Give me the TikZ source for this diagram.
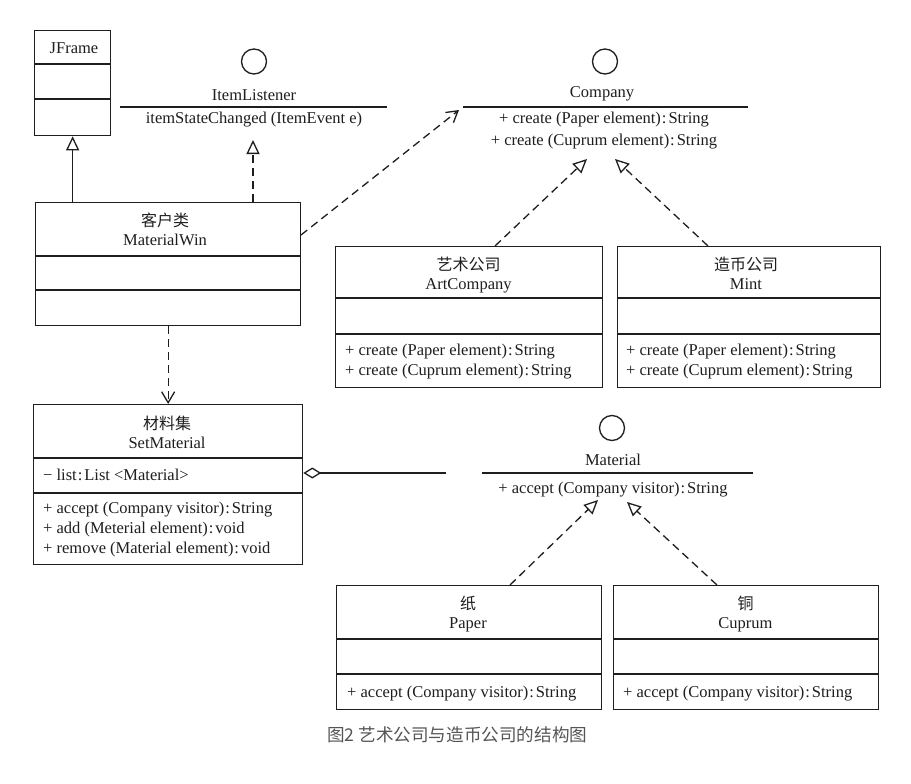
\documentclass[tikz,border=0pt]{standalone}
\usepackage{fontspec}
\setmainfont{Liberation Serif}
\newfontfamily\cjk{Noto Sans CJK SC}
\usetikzlibrary{arrows.meta}
\definecolor{ink}{RGB}{30,30,30}
\definecolor{capgray}{RGB}{85,85,85}
\newcommand{\cl}{\kern1pt:\kern2pt}
\tikzset{
  box/.style={draw=ink, line width=1.3pt, rectangle, anchor=north west, inner sep=0pt},
  div/.style={draw=ink, line width=1.3pt},
  txt/.style={inner sep=0pt, text=ink, font=\fontsize{16.5}{18}\selectfont},
  ctxt/.style={inner sep=0pt, text=ink, font=\cjk\fontsize{16}{18}\selectfont},
  iface/.style={draw=ink, line width=1.3pt, circle, minimum size=25pt, inner sep=0pt},
  gen/.style={draw=ink, line width=1.3pt, -{Triangle[open, length=14pt, width=13pt, line width=1.3pt]}},
  real/.style={gen, dash pattern=on 8pt off 5pt},
  dep/.style={draw=ink, line width=1.3pt, dash pattern=on 8pt off 5pt, -{Straight Barb[length=11pt, width=13pt, line width=1.3pt]}},
  agg/.style={draw=ink, line width=1.3pt, -{Diamond[open, length=18pt, width=11pt, line width=1.3pt]}}
}
\begin{document}
\begin{tikzpicture}[x=1pt,y=-1pt]
\fill[white] (0,0) rectangle (911,784);
\useasboundingbox (0,0) rectangle (911,784);

% JFrame
\node[box, minimum width=76pt, minimum height=105pt] (jframe) at (34,30) {};
\draw[div] (jframe.west |- 0,64) -- (jframe.east |- 0,64);
\draw[div] (jframe.west |- 0,99) -- (jframe.east |- 0,99);
\node[txt, anchor=base] (jft) at (74,54) {JFrame};

% ItemListener
\node[iface] (il) at (254,61.5) {};
\node[txt, anchor=base] (ilt) at (254,100) {ItemListener};
\draw[div] (120,107) -- (387,107);
\node[txt, anchor=base] (ilm) at (254,124) {itemStateChanged (ItemEvent e)};
\coordinate (iltip) at (253,140);

% Company
\node[iface] (co) at (605,61.5) {};
\node[txt, anchor=base] (cot) at (602,97) {Company};
\draw[div] (463,107) -- (748,107);
\node[txt, anchor=base] (com1) at (604,124) {+ create (Paper element)\cl String};
\node[txt, anchor=base] (com2) at (604,145) {+ create (Cuprum element)\cl String};
\coordinate (comptip) at (459,110);
\coordinate (ctipl) at (587,159);
\coordinate (ctipr) at (615,159);

% MaterialWin
\node[box, minimum width=265pt, minimum height=123pt] (mw) at (35,202) {};
\draw[div] (mw.west |- 0,256) -- (mw.east |- 0,256);
\draw[div] (mw.west |- 0,290) -- (mw.east |- 0,290);
\node[ctxt] (mwc) at (165,220) {客户类};
\node[txt, anchor=base] (mwt) at (165,245) {MaterialWin};
\coordinate (mwport) at (301,235);

% ArtCompany
\node[box, minimum width=267pt, minimum height=141pt] (ac) at (335,246) {};
\draw[div] (ac.west |- 0,298) -- (ac.east |- 0,298);
\draw[div] (ac.west |- 0,334) -- (ac.east |- 0,334);
\node[ctxt] (acc) at (468.5,264) {艺术公司};
\node[txt, anchor=base] (act) at (468.5,289) {ArtCompany};
\node[txt, anchor=base west] (acm1) at (345,355) {+ create (Paper element)\cl String};
\node[txt, anchor=base west] (acm2) at (345,375) {+ create (Cuprum element)\cl String};
\coordinate (acport) at (495,246);

% Mint
\node[box, minimum width=263pt, minimum height=141pt] (mint) at (617,246) {};
\draw[div] (mint.west |- 0,298) -- (mint.east |- 0,298);
\draw[div] (mint.west |- 0,334) -- (mint.east |- 0,334);
\node[ctxt] (mic) at (746,264) {造币公司};
\node[txt, anchor=base] (mit) at (746,289) {Mint};
\node[txt, anchor=base west] (mim1) at (626,355) {+ create (Paper element)\cl String};
\node[txt, anchor=base west] (mim2) at (626,375) {+ create (Cuprum element)\cl String};
\coordinate (mintport) at (708,246);

% SetMaterial
\node[box, minimum width=269pt, minimum height=160pt] (sm) at (33,404) {};
\draw[div] (sm.west |- 0,458) -- (sm.east |- 0,458);
\draw[div] (sm.west |- 0,493) -- (sm.east |- 0,493);
\node[ctxt] (smc) at (167,423) {材料集};
\node[txt, anchor=base] (smt) at (167,448) {SetMaterial};
\node[txt, anchor=base west] (sma) at (43,480) {− list\cl List <Material>};
\node[txt, anchor=base west] (smm1) at (43,513) {+ accept (Company visitor)\cl String};
\node[txt, anchor=base west] (smm2) at (43,533) {+ add (Meterial element)\cl void};
\node[txt, anchor=base west] (smm3) at (43,553) {+ remove (Material element)\cl void};

% Material
\node[iface] (ma) at (612,428) {};
\node[txt, anchor=base] (mat) at (613,465) {Material};
\draw[div] (482,473) -- (753,473);
\node[txt, anchor=base] (mam) at (613,493) {+ accept (Company visitor)\cl String};
\coordinate (aggend) at (446,473);
\coordinate (mtipl) at (598,500);
\coordinate (mtipr) at (627,502);

% Paper
\node[box, minimum width=265pt, minimum height=124pt] (pa) at (336,585) {};
\draw[div] (pa.west |- 0,639) -- (pa.east |- 0,639);
\draw[div] (pa.west |- 0,674) -- (pa.east |- 0,674);
\node[ctxt] (pac) at (468,603) {纸};
\node[txt, anchor=base] (pat) at (468,628) {Paper};
\node[txt, anchor=base west] (pam) at (347,697) {+ accept (Company visitor)\cl String};
\coordinate (paport) at (510,585);

% Cuprum
\node[box, minimum width=265pt, minimum height=124pt] (cu) at (613,585) {};
\draw[div] (cu.west |- 0,639) -- (cu.east |- 0,639);
\draw[div] (cu.west |- 0,674) -- (cu.east |- 0,674);
\node[ctxt] (cuc) at (745.5,603) {铜};
\node[txt, anchor=base] (cut) at (745.5,628) {Cuprum};
\node[txt, anchor=base west] (cum) at (623,697) {+ accept (Company visitor)\cl String};
\coordinate (cuport) at (717,585);

% connectors
\draw[gen] (jframe.south |- mw.north) -- (jframe.south);
\draw[real] (iltip |- mw.north) -- (iltip);
\draw[dep] (mwport) -- (comptip);
\draw[dep] (mw.south) -- (sm.north);
\draw[real] (acport) -- (ctipl);
\draw[real] (mintport) -- (ctipr);
\draw[real] (paport) -- (mtipl);
\draw[real] (cuport) -- (mtipr);
\draw[agg] (aggend) -- (sm.east |- aggend);

% caption
\node[inner sep=0pt, anchor=west, text=capgray, font=\cjk\fontsize{17.6}{20}\selectfont] (cap) at (327,735) {图2 艺术公司与造币公司的结构图};
\end{tikzpicture}
\end{document}
